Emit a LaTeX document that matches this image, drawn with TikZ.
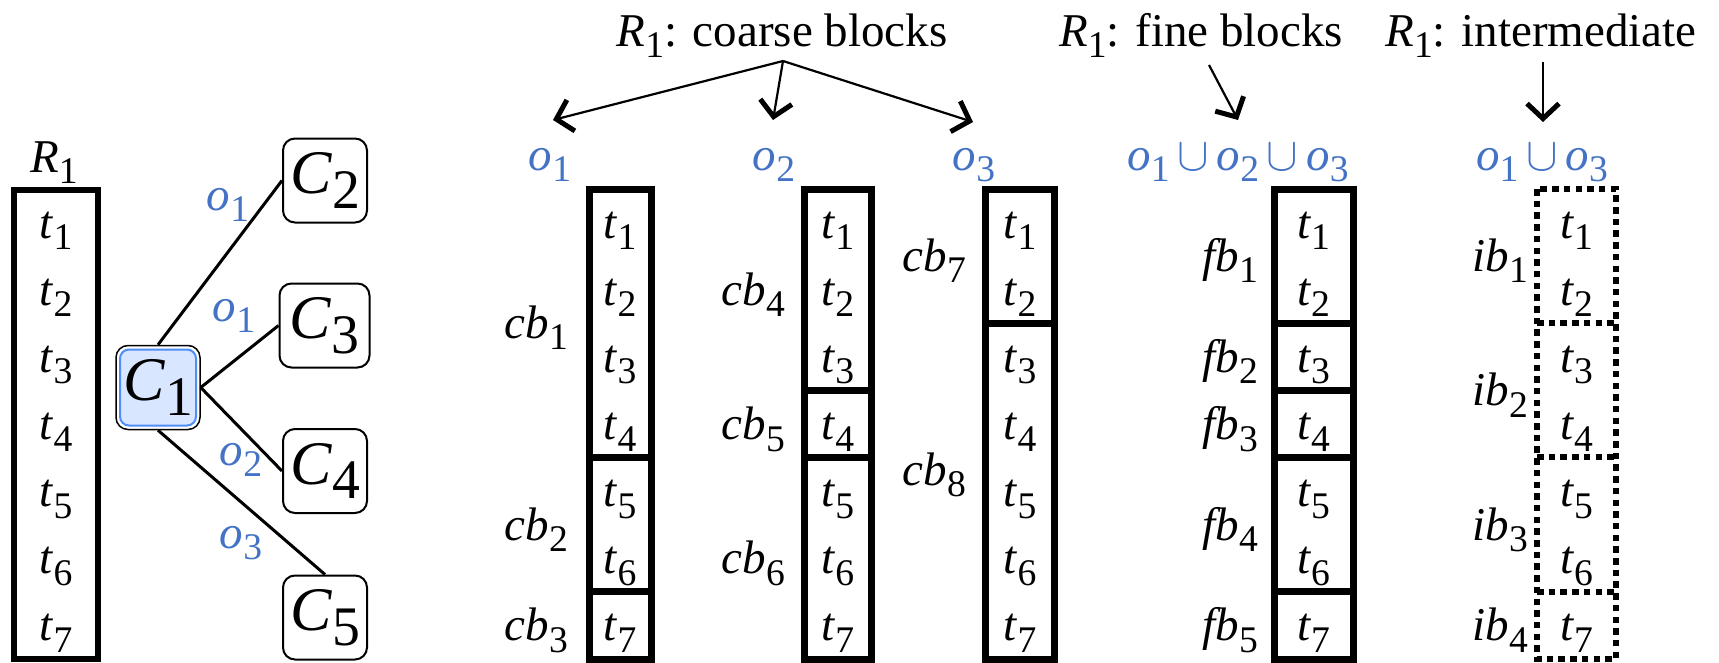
\documentclass[tikz,border=0pt]{standalone}
\usepackage{fontspec}
\setmainfont{Liberation Serif}
\usetikzlibrary{arrows.meta}

\definecolor{oblue}{HTML}{4472C4}
\definecolor{cfill}{HTML}{D9E6FF}
\definecolor{cline}{HTML}{4F8EF7}

% italic symbol with an upright, lowered index
\newcommand{\vb}[2]{\textit{#1}\raisebox{-0.25em}{\scalebox{0.8}{#2}}}
\newcommand{\cv}[2]{\textit{#1}\raisebox{-0.24em}{\scalebox{0.9}{#2}}}
% union sign at text size
\newcommand{\un}{\,\scalebox{1.9}{$\cup$}\,}

\tikzset{
  txt/.style={font=\fontsize{47}{56}\selectfont, inner sep=0pt},
  tup/.style={txt, anchor=base},
  lbl/.style={txt, anchor=base east},
  otxt/.style={txt, text=oblue, anchor=base},
  cnode/.style={draw, rounded corners=12pt, line width=2pt, minimum width=84pt,
    minimum height=84pt, inner sep=0pt, font=\fontsize{62}{70}\selectfont},
  blk/.style={line width=7pt},
  dotblk/.style={line width=6pt, dash pattern=on 6.5pt off 5.2pt},
  link/.style={line width=3pt},
  pointer/.style={line width=2.2pt, -{Straight Barb[length=15pt, width=32pt, line width=5pt]}}
}

\begin{document}
\begin{tikzpicture}[x=1pt, y=-1pt]
\useasboundingbox (0,0) rectangle (1719,662);

% ---------- relation R1 and its tuples ----------
\node[txt, anchor=base] (r1) at (54,172) {\vb{R}{1}};
\draw[line width=6pt] (14,190) rectangle (98,659);

% tuple rows in every column
\foreach \c/\x in {r/56, a/620, b/837.75, c/1020, d/1313.5, e/1576.5}
  \foreach \k in {1,...,7}
    \node[tup] (\c t\k) at (\x, {238+67.1*(\k-1)}) {\vb{t}{\k}};

% ---------- consumer tree ----------
\node[cnode, line width=1.5pt, fill=white,
  path picture={\draw[cline, line width=2pt, fill=cfill, rounded corners=9pt]
    ([shift={(4pt,-4pt)}]path picture bounding box.north west) rectangle
    ([shift={(-4pt,4pt)}]path picture bounding box.south east);}]
  (C1) at (158,387.5) {\cv{C}{1}};
\node[cnode] (C2) at (325,180.5) {\cv{C}{2}};
\node[cnode, minimum width=90pt] (C3) at (324.5,325.5) {\cv{C}{3}};
\node[cnode] (C4) at (325,471) {\cv{C}{4}};
\node[cnode] (C5) at (325,617.5) {\cv{C}{5}};

\draw[link] (C1.north) -- (C2.west);
\draw[link] (C1.east) -- (C3.west);
\draw[link] (C1.east) -- (C4.west);
\draw[link] (C1.south) -- (C5.north);

\node[otxt] (e2) at (228,210) {\vb{o}{1}};
\node[otxt] (e3) at (234,321) {\vb{o}{1}};
\node[otxt] (e4) at (241,465) {\vb{o}{2}};
\node[otxt] (e5) at (241,548) {\vb{o}{3}};

% ---------- headings and order labels ----------
\node[txt, anchor=base] (hc) at (782,46) {\vb{R}{1}: coarse blocks};
\node[txt, anchor=base] (hf) at (1201,46) {\vb{R}{1}: fine blocks};
\node[txt, anchor=base] (hi) at (1541,46) {\vb{R}{1}: intermediate};

\node[otxt] (oa) at (550,170) {\vb{o}{1}};
\node[otxt] (ob) at (774,170) {\vb{o}{2}};
\node[otxt] (oc) at (974,170) {\vb{o}{3}};
\node[otxt] (od) at (1238,170) {\vb{o}{1}\un\vb{o}{2}\un\vb{o}{3}};
\node[otxt] (oe) at (1542,170) {\vb{o}{1}\un\vb{o}{3}};

\coordinate (sc) at (783,61);
\coordinate (sf) at (1209,65);
\coordinate (si) at (1543,62);
\draw[pointer] (sc) -- (553,120);
\draw[pointer] (sc) -- (773,120);
\draw[pointer] (sc) -- (973,122);
\draw[pointer] (sf) -- (1238,120);
\draw[pointer] (si) -- (1543,122);

% ---------- coarse blocks ----------
\draw[blk] (589,189) rectangle (651,659);
\draw[blk] (589,457.4) -- (651,457.4);
\draw[blk] (589,591.6) -- (651,591.6);
\node[lbl] (cb1) at (568,338) {\vb{cb}{1}};
\node[lbl] (cb2) at (568,540) {\vb{cb}{2}};
\node[lbl] (cb3) at (568,640.6) {\vb{cb}{3}};

\draw[blk] (804.5,189) rectangle (871,659);
\draw[blk] (804.5,390.3) -- (871,390.3);
\draw[blk] (804.5,457.4) -- (871,457.4);
\node[lbl] (cb4) at (785,305) {\vb{cb}{4}};
\node[lbl] (cb5) at (785,439.3) {\vb{cb}{5}};
\node[lbl] (cb6) at (785,573.5) {\vb{cb}{6}};

\draw[blk] (985.5,189) rectangle (1054.5,659);
\draw[blk] (985.5,323.2) -- (1054.5,323.2);
\node[lbl] (cb7) at (966,271) {\vb{cb}{7}};
\node[lbl] (cb8) at (966,485) {\vb{cb}{8}};

% ---------- fine blocks ----------
\draw[blk] (1274,189) rectangle (1353,659);
\foreach \y in {323.2, 390.3, 457.4, 591.6}
  \draw[blk] (1274,\y) -- (1353,\y);
\node[lbl] (fb1) at (1258,271) {\vb{fb}{1}};
\node[lbl] (fb2) at (1258,372.2) {\vb{fb}{2}};
\node[lbl] (fb3) at (1258,439.3) {\vb{fb}{3}};
\node[lbl] (fb4) at (1258,540) {\vb{fb}{4}};
\node[lbl] (fb5) at (1258,640.6) {\vb{fb}{5}};

% ---------- intermediate blocks ----------
\draw[dotblk] (1537,189) rectangle (1616,659);
\foreach \y in {323.2, 457.4, 591.6}
  \draw[dotblk] (1537,\y) -- (1616,\y);
\node[lbl] (ib1) at (1528,271) {\vb{ib}{1}};
\node[lbl] (ib2) at (1528,405.7) {\vb{ib}{2}};
\node[lbl] (ib3) at (1528,540) {\vb{ib}{3}};
\node[lbl] (ib4) at (1528,640.6) {\vb{ib}{4}};
\end{tikzpicture}
\end{document}
